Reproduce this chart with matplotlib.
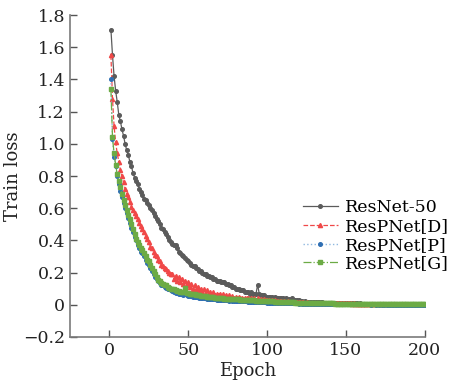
import matplotlib
matplotlib.use('Agg')
import matplotlib.pyplot as plt

plt.rcParams['font.family'] = 'DejaVu Serif'

# Data: training loss per epoch (1..200)
epochs = list(range(1, 201))

resnet50 = [
    1.71, 1.55, 1.42, 1.33, 1.26, 1.18, 1.14, 1.09, 1.05, 1.00,
    0.96, 0.93, 0.89, 0.86, 0.82, 0.79, 0.77, 0.75, 0.72, 0.70,
    0.68, 0.66, 0.65, 0.63, 0.62, 0.60, 0.59, 0.57, 0.55, 0.53,
    0.52, 0.50, 0.48, 0.47, 0.45, 0.44, 0.42, 0.40, 0.39, 0.38,
    0.37, 0.37, 0.35, 0.33, 0.32, 0.31, 0.30, 0.29, 0.28, 0.27,
    0.26, 0.25, 0.24, 0.24, 0.23, 0.22, 0.21, 0.21, 0.20, 0.19,
    0.19, 0.18, 0.18, 0.17, 0.17, 0.16, 0.16, 0.15, 0.15, 0.15,
    0.14, 0.14, 0.14, 0.13, 0.13, 0.12, 0.12, 0.11, 0.11, 0.10,
    0.10, 0.10, 0.09, 0.09, 0.09, 0.08, 0.08, 0.08, 0.07, 0.08,
    0.07, 0.07, 0.07, 0.125, 0.07, 0.06, 0.06, 0.06, 0.05, 0.05,
    0.05, 0.05, 0.05, 0.04, 0.05, 0.04, 0.04, 0.04, 0.04, 0.04,
    0.035, 0.04, 0.03, 0.035, 0.03, 0.04, 0.03, 0.03, 0.03, 0.03,
    0.025, 0.025, 0.02, 0.025, 0.02, 0.02, 0.02, 0.02, 0.02, 0.018,
    0.018, 0.016, 0.017, 0.015, 0.015, 0.014, 0.014, 0.013, 0.013, 0.012,
    0.012, 0.011, 0.011, 0.010, 0.010, 0.010, 0.010, 0.009, 0.009, 0.009,
    0.009, 0.009, 0.008, 0.009, 0.008, 0.008, 0.008, 0.007, 0.008, 0.007,
    0.007, 0.007, 0.007, 0.006, 0.007, 0.006, 0.006, 0.006, 0.006, 0.006,
    0.006, 0.005, 0.006, 0.005, 0.005, 0.005, 0.005, 0.005, 0.005, 0.005,
    0.005, 0.005, 0.004, 0.005, 0.004, 0.004, 0.004, 0.005, 0.004, 0.004,
    0.004, 0.004, 0.004, 0.004, 0.004, 0.004, 0.003, 0.004, 0.004, 0.003,
]

respnet_d = [
    1.55, 1.28, 1.11, 1.01, 0.94, 0.89, 0.84, 0.80, 0.76, 0.72,
    0.69, 0.67, 0.64, 0.61, 0.59, 0.57, 0.55, 0.53, 0.51, 0.49,
    0.47, 0.45, 0.43, 0.41, 0.39, 0.36, 0.35, 0.33, 0.31, 0.30,
    0.28, 0.27, 0.25, 0.24, 0.23, 0.22, 0.21, 0.20, 0.19, 0.19,
    0.16, 0.18, 0.15, 0.17, 0.14, 0.16, 0.13, 0.15, 0.12, 0.14,
    0.11, 0.13, 0.10, 0.12, 0.09, 0.11, 0.09, 0.10, 0.08, 0.10,
    0.07, 0.09, 0.07, 0.08, 0.06, 0.08, 0.06, 0.07, 0.06, 0.07,
    0.05, 0.065, 0.05, 0.06, 0.045, 0.06, 0.045, 0.055, 0.04, 0.05,
    0.04, 0.05, 0.04, 0.045, 0.035, 0.045, 0.04, 0.045, 0.035, 0.04,
    0.035, 0.04, 0.03, 0.04, 0.03, 0.035, 0.03, 0.035, 0.028, 0.03,
    0.03, 0.025, 0.032, 0.025, 0.028, 0.022, 0.026, 0.022, 0.024, 0.02,
    0.023, 0.019, 0.021, 0.018, 0.02, 0.017, 0.019, 0.016, 0.017, 0.016,
    0.016, 0.015, 0.016, 0.014, 0.015, 0.014, 0.014, 0.013, 0.014, 0.012,
    0.013, 0.012, 0.012, 0.011, 0.012, 0.011, 0.011, 0.010, 0.011, 0.010,
    0.010, 0.010, 0.009, 0.010, 0.009, 0.009, 0.009, 0.008, 0.009, 0.008,
    0.008, 0.008, 0.008, 0.007, 0.008, 0.007, 0.007, 0.007, 0.007, 0.007,
    0.006, 0.007, 0.006, 0.006, 0.006, 0.006, 0.006, 0.006, 0.005, 0.006,
    0.005, 0.005, 0.005, 0.005, 0.005, 0.005, 0.005, 0.005, 0.005, 0.004,
    0.005, 0.004, 0.004, 0.004, 0.004, 0.004, 0.004, 0.004, 0.004, 0.004,
    0.004, 0.003, 0.004, 0.003, 0.003, 0.003, 0.003, 0.003, 0.003, 0.003,
]

respnet_p = [
    1.40, 1.03, 0.92, 0.86, 0.80, 0.75, 0.71, 0.67, 0.63, 0.60,
    0.57, 0.54, 0.51, 0.48, 0.45, 0.42, 0.40, 0.37, 0.35, 0.33,
    0.32, 0.30, 0.28, 0.26, 0.25, 0.23, 0.21, 0.19, 0.17, 0.16,
    0.145, 0.135, 0.125, 0.12, 0.11, 0.105, 0.10, 0.095, 0.09, 0.085,
    0.08, 0.075, 0.072, 0.07, 0.066, 0.064, 0.06, 0.07, 0.058, 0.055,
    0.054, 0.052, 0.05, 0.049, 0.047, 0.046, 0.044, 0.043, 0.042, 0.04,
    0.04, 0.038, 0.037, 0.036, 0.035, 0.034, 0.033, 0.032, 0.03, 0.031,
    0.03, 0.029, 0.028, 0.03, 0.027, 0.026, 0.028, 0.025, 0.026, 0.024,
    0.024, 0.023, 0.024, 0.022, 0.022, 0.021, 0.022, 0.02, 0.02, 0.019,
    0.02, 0.018, 0.018, 0.017, 0.018, 0.016, 0.016, 0.015, 0.016, 0.014,
    0.014, 0.013, 0.014, 0.012, 0.013, 0.012, 0.011, 0.012, 0.010, 0.011,
    0.010, 0.010, 0.009, 0.010, 0.009, 0.008, 0.009, 0.008, 0.008, 0.007,
    0.008, 0.007, 0.007, 0.006, 0.007, 0.006, 0.006, 0.005, 0.006, 0.005,
    0.005, 0.005, 0.004, 0.005, 0.004, 0.004, 0.004, 0.004, 0.004, 0.003,
    0.004, 0.003, 0.003, 0.003, 0.003, 0.003, 0.003, 0.003, 0.002, 0.003,
    0.002, 0.003, 0.002, 0.002, 0.002, 0.002, 0.002, 0.002, 0.002, 0.002,
    0.002, 0.002, 0.002, 0.002, 0.002, 0.001, 0.002, 0.002, 0.001, 0.002,
    0.001, 0.002, 0.001, 0.001, 0.002, 0.001, 0.001, 0.001, 0.001, 0.001,
    0.001, 0.001, 0.001, 0.001, 0.001, 0.001, 0.001, 0.001, 0.001, 0.001,
    0.001, 0.001, 0.001, 0.001, 0.001, 0.001, 0.001, 0.001, 0.001, 0.001,
]

respnet_g = [
    1.34, 1.04, 0.94, 0.87, 0.81, 0.77, 0.73, 0.69, 0.65, 0.62,
    0.59, 0.56, 0.53, 0.50, 0.47, 0.44, 0.41, 0.39, 0.37, 0.35,
    0.34, 0.32, 0.30, 0.28, 0.27, 0.25, 0.23, 0.21, 0.19, 0.17,
    0.155, 0.145, 0.135, 0.13, 0.125, 0.12, 0.11, 0.105, 0.10, 0.098,
    0.095, 0.09, 0.088, 0.085, 0.082, 0.08, 0.078, 0.105, 0.075, 0.072,
    0.07, 0.068, 0.066, 0.064, 0.062, 0.06, 0.058, 0.057, 0.055, 0.054,
    0.052, 0.051, 0.05, 0.048, 0.047, 0.046, 0.045, 0.044, 0.043, 0.042,
    0.041, 0.04, 0.039, 0.038, 0.038, 0.037, 0.036, 0.035, 0.035, 0.034,
    0.033, 0.033, 0.032, 0.031, 0.031, 0.03, 0.03, 0.029, 0.028, 0.028,
    0.027, 0.027, 0.026, 0.026, 0.025, 0.025, 0.024, 0.024, 0.023, 0.023,
    0.022, 0.022, 0.021, 0.021, 0.02, 0.02, 0.019, 0.019, 0.018, 0.018,
    0.017, 0.017, 0.016, 0.016, 0.016, 0.015, 0.015, 0.014, 0.014, 0.014,
    0.013, 0.013, 0.013, 0.012, 0.012, 0.012, 0.011, 0.011, 0.011, 0.010,
    0.010, 0.010, 0.010, 0.009, 0.009, 0.009, 0.009, 0.008, 0.008, 0.008,
    0.008, 0.008, 0.007, 0.007, 0.007, 0.007, 0.007, 0.006, 0.006, 0.006,
    0.006, 0.006, 0.006, 0.006, 0.005, 0.006, 0.005, 0.005, 0.005, 0.005,
    0.005, 0.005, 0.005, 0.005, 0.005, 0.005, 0.004, 0.005, 0.004, 0.004,
    0.004, 0.004, 0.004, 0.004, 0.004, 0.004, 0.004, 0.004, 0.004, 0.004,
    0.004, 0.004, 0.004, 0.003, 0.004, 0.003, 0.004, 0.003, 0.003, 0.003,
    0.003, 0.003, 0.003, 0.003, 0.003, 0.003, 0.003, 0.003, 0.003, 0.003,
]

y_ticks = [-0.2, 0, 0.2, 0.4, 0.6, 0.8, 1.0, 1.2, 1.4, 1.6, 1.8]
y_tick_labels = ['\u22120.2', '0', '0.2', '0.4', '0.6', '0.8', '1.0', '1.2', '1.4', '1.6', '1.8']
x_ticks = [0, 50, 100, 150, 200]

# Plot setup
fig = plt.figure(figsize=(4.51, 3.86), dpi=100)
ax = fig.add_axes([0.155, 0.127, 0.787, 0.834])

ax.plot(epochs, resnet50, '-o', c='#5b5b5b', lw=0.9, ms=2.6, label='ResNet-50')
ax.plot(epochs, respnet_d, '--^', c='#f04848', lw=0.9, ms=3.0, label='ResPNet[D]')
ax.plot(epochs, respnet_p, ':o', c='#8fb8e0', mfc='#2f6fb3', mec='#2f6fb3', lw=1.0, ms=2.6,
        label='ResPNet[P]')
ax.plot(epochs, respnet_g, '-.s', c='#6cab45', lw=0.9, ms=2.4, label='ResPNet[G]')

ax.set_xlim(-25, 200)
ax.set_ylim(-0.2, 1.8)
ax.set_xticks(x_ticks)
ax.set_yticks(y_ticks)
ax.set_yticklabels(y_tick_labels)

for side in ['top', 'right']:
    ax.spines[side].set_visible(False)
for side in ['left', 'bottom']:
    ax.spines[side].set_color('#7a7a7a')
    ax.spines[side].set_linewidth(1.2)

ax.tick_params(axis='both', direction='in', length=5, width=1, color='#555555',
               labelsize=12.5, labelcolor='#222222')

ax.set_xlabel('Epoch', fontsize=13, color='#222222', labelpad=2)
ax.set_ylabel('Train loss', fontsize=13, color='#222222', labelpad=1)

fig.legend(loc='upper left', bbox_to_anchor=(0.672, 0.484), frameon=False, fontsize=12.5,
           handlelength=2.0, handletextpad=0.4, labelspacing=0.1, borderpad=0, borderaxespad=0)

plt.savefig('out.png', dpi=100)
